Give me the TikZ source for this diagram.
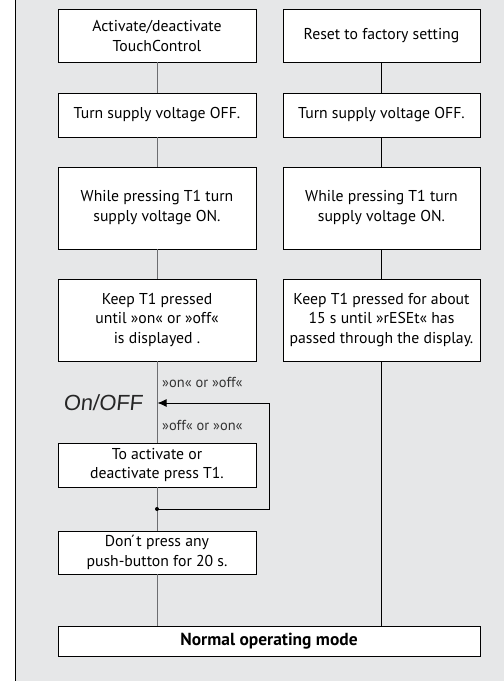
\documentclass[tikz,border=0pt]{standalone}
\usepackage{fontspec}
\setmainfont{PT Sans}
\newfontfamily\segfont[FakeSlant=0.1]{Liberation Sans}
\usetikzlibrary{arrows.meta}
\definecolor{bggray}{HTML}{E6E7E8}
\definecolor{linegray}{HTML}{6D6E71}
\tikzset{
  box/.style={draw=black, line width=0.9bp, fill=white, minimum width=198bp, align=center, inner sep=2bp,
    font=\fontsize{15.8}{20}\selectfont},
  conn/.style={line width=0.9bp, draw=linegray},
  connb/.style={line width=0.9bp, draw=black},
  lbl/.style={font=\fontsize{14.5}{16}\selectfont, text=black!80, anchor=west, inner sep=0pt}
}
\begin{document}
\begin{tikzpicture}[x=1bp, y=-1bp]
\useasboundingbox (0,0) rectangle (504,681);
\fill[bggray] (16,0) rectangle (504,681);
\draw[line width=1.2bp] (15.5,0) -- (15.5,681);

\node[box, minimum height=52.5bp] (a1) at (157,35.75) {Activate/deactivate\\TouchControl};
\node[box, minimum height=52.5bp, minimum width=197bp] (b1) at (381.5,35.75) {Reset to factory setting};
\node[box, minimum height=44bp] (a2) at (157,115) {Turn supply voltage OFF.};
\node[box, minimum height=44bp, minimum width=197bp] (b2) at (381.5,115) {Turn supply voltage OFF.};
\node[box, minimum height=82bp] (a3) at (157,208) {While pressing T1 turn\\supply voltage ON.};
\node[box, minimum height=82bp, minimum width=197bp] (b3) at (381.5,208) {While pressing T1 turn\\supply voltage ON.};
\node[box, minimum height=82bp] (a4) at (157,320) {Keep T1 pressed\\until »on« or »off«\\is displayed .};
\node[box, minimum height=82bp, minimum width=197bp] (b4) at (381.5,320) {Keep T1 pressed for about\\15 s until »rESEt« has\\passed through the display.};
\node[box, minimum height=44bp] (a5) at (157,465) {To activate or\\deactivate press T1.};
\node[box, minimum height=43bp] (a6) at (157,552.5) {Don\'{}t press any\\push-button for 20 s.};
\node[box, minimum height=30bp, minimum width=422bp, font=\fontsize{17.5}{19}\selectfont\bfseries] (n) at (269,641) {Normal operating mode};

\node[font=\segfont\fontsize{22}{22}\selectfont, text=black!85, inner sep=0pt] (disp) at (103,403) {On/OFF};
\node[lbl] (l1) at (162,382) {»on« or »off«};
\node[lbl] (l2) at (162,425) {»off« or »on«};

\coordinate (arr) at (157.5,403);
\coordinate (j) at (157,509);
\coordinate (r1) at (269,509);
\coordinate (r2) at (269,403);

\draw[conn] (a1) -- (a2);
\draw[conn] (a2) -- (a3);
\draw[conn] (a3) -- (a4);
\draw[conn] (a4) -- (a5);
\draw[conn] (a5) -- (a6);
\draw[conn] (a6) -- (n.north -| a6.south);
\draw[connb] (b1) -- (b2);
\draw[connb] (b2) -- (b3);
\draw[connb] (b3) -- (b4);
\draw[connb] (b4) -- (n.north -| b4.south);
\draw[connb, -{Latex[length=9bp,width=8bp]}] (j) -- (r1) -- (r2) -- (arr);
\fill (j) circle (2bp);
\end{tikzpicture}
\end{document}
